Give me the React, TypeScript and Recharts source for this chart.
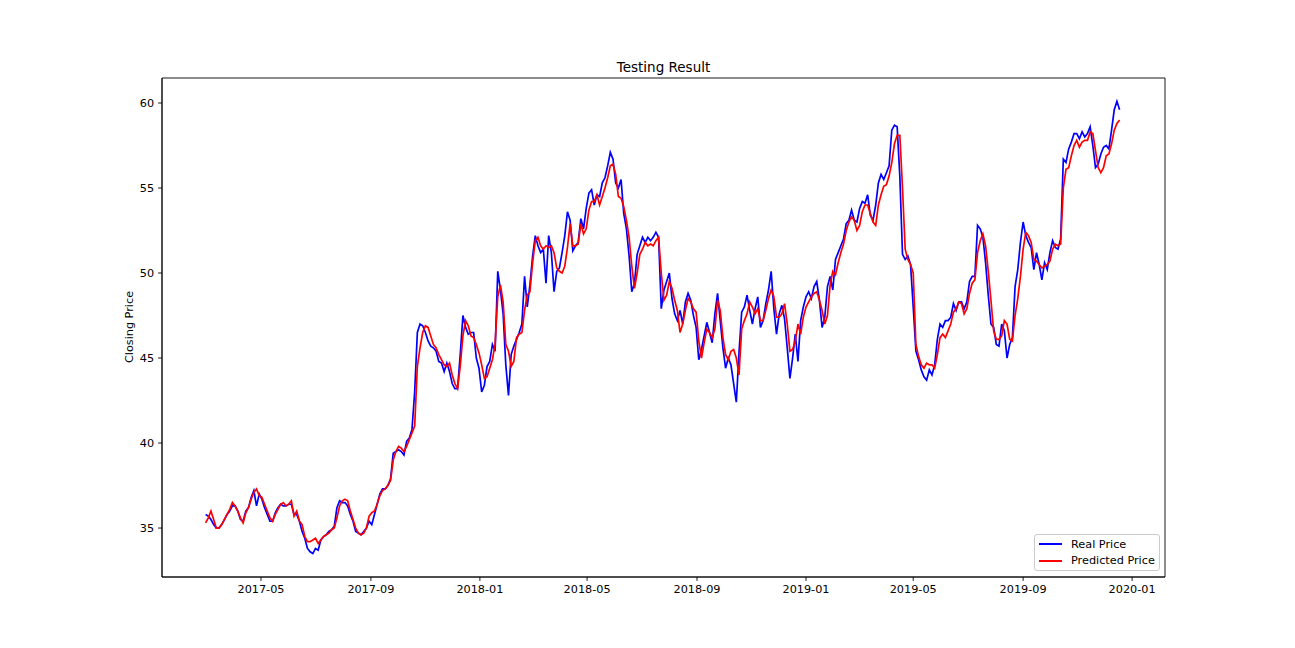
import { LineChart, Line, XAxis, YAxis, Legend, ReferenceArea } from "recharts";

const DAY = 86400000;
// closing prices read every 3 calendar days, first one on 2017-02-28
const START = Date.UTC(2017, 1, 28);
const STEP_DAYS = 3;

const realPrice = [
  35.8, 35.7, 35.5, 35.2, 35.0, 35.0, 35.2, 35.5, 35.8, 36.0,
  36.3, 36.3, 36.0, 35.5, 35.4, 36.0, 36.2, 36.8, 37.2, 36.3,
  37.0, 36.7, 36.2, 35.8, 35.4, 35.4, 35.9, 36.2, 36.4, 36.3,
  36.3, 36.4, 36.4, 35.8, 35.8, 35.4, 34.8, 34.4, 33.8, 33.6,
  33.5, 33.8, 33.7, 34.3, 34.5, 34.6, 34.8, 34.9, 35.1, 36.2,
  36.6, 36.5, 36.5, 36.3, 35.8, 35.4, 34.8, 34.7, 34.6, 34.8,
  35.0, 35.4, 35.2, 35.8, 36.4, 37.0, 37.3, 37.3, 37.5, 37.9,
  39.4, 39.5, 39.6, 39.5, 39.3, 40.1, 40.3, 40.8, 43.0, 46.5,
  47.0, 46.9, 46.5, 46.0, 45.7, 45.6, 45.4, 44.8, 44.7, 44.2,
  44.7, 44.2, 43.5, 43.2, 43.2, 45.2, 47.5, 46.8, 46.4, 46.5,
  46.5, 45.0, 44.4, 43.0, 43.4, 44.5, 44.8, 45.8, 45.4, 50.1,
  49.0, 47.6, 44.6, 42.8, 45.2, 45.7, 46.1, 46.5, 47.0, 49.8,
  48.0, 49.3, 51.0, 52.2, 51.6, 51.2, 51.4, 49.4, 52.2, 51.2,
  48.9, 50.1, 50.3, 51.2, 52.2, 53.6, 53.1, 51.3, 51.6, 51.8,
  53.2, 52.6, 53.8, 54.7, 54.9, 54.0, 54.6, 54.5, 55.3, 55.6,
  56.3, 57.1, 56.7, 55.3, 55.0, 55.5, 53.5, 52.6, 51.0, 48.9,
  49.4, 51.1, 51.6, 52.1, 51.8, 52.1, 51.9, 52.1, 52.4, 52.1,
  47.9, 49.0, 49.5, 50.0, 48.5, 47.6, 47.2, 47.8, 47.0, 48.3,
  48.8, 48.4, 47.5, 46.8, 44.9, 45.5, 46.3, 47.1, 46.5, 45.9,
  47.6, 48.8, 47.2, 45.6, 44.4, 45.0, 44.6, 43.5, 42.4, 45.3,
  47.7, 48.0, 48.7, 47.8, 47.0, 47.9, 48.6, 46.8, 47.2, 48.2,
  49.0, 50.1, 47.9, 46.4, 47.6, 48.1, 47.3, 45.6, 43.8, 45.0,
  46.4, 44.8, 47.2, 48.0, 48.6, 48.9, 48.5, 49.2, 49.5, 48.4,
  46.8, 47.4, 49.2, 49.8, 49.0, 50.8, 51.2, 51.6, 52.0, 52.9,
  53.1, 53.7, 53.1, 53.0, 53.8, 54.2, 54.1, 54.6, 53.4, 53.1,
  54.0, 55.3, 55.8, 55.5, 55.9, 56.3, 58.4, 58.7, 58.6, 55.7,
  51.1, 50.8, 51.0, 50.5, 48.0, 45.4, 44.9, 44.3, 43.9, 43.7,
  44.3, 44.0, 44.6, 46.1, 47.0, 46.8, 47.2, 47.2, 47.4, 48.2,
  47.8, 48.3, 48.3, 47.9, 48.3, 49.5, 49.8, 49.8, 52.8, 52.6,
  52.1, 50.6, 48.7, 47.0, 46.8, 45.8, 45.7, 47.0, 46.6, 45.0,
  45.8, 46.2, 49.2, 50.2, 51.8, 53.0, 52.2, 51.8, 51.5, 50.2,
  51.2, 50.5, 49.6, 50.6, 50.2, 51.2, 51.9, 51.5, 51.4, 52.0,
  56.7, 56.5, 57.3, 57.7, 58.2, 58.2, 57.9, 58.3, 58.0, 58.2,
  58.6, 57.5, 56.2, 56.4, 57.0, 57.4, 57.5, 57.3, 58.4, 59.6,
  60.1, 59.6,
];

const predictedPrice = [
  35.3, 35.6, 36.0, 35.5, 35.0, 35.0, 35.2, 35.5, 35.8, 36.1,
  36.5, 36.3, 36.0, 35.6, 35.3, 35.9, 36.2, 36.7, 37.1, 37.3,
  36.9, 36.8, 36.4, 36.0, 35.6, 35.4, 35.8, 36.1, 36.4, 36.5,
  36.3, 36.4, 36.6, 35.7, 36.0, 35.4, 35.2, 34.5, 34.2, 34.2,
  34.3, 34.4, 34.1, 34.3, 34.5, 34.6, 34.7, 34.9, 35.0, 35.6,
  36.3, 36.6, 36.7, 36.6, 36.0, 35.5, 35.0, 34.7, 34.6, 34.7,
  35.0, 35.7, 35.9, 36.0, 36.4, 36.9, 37.2, 37.3, 37.5, 37.8,
  39.0, 39.5, 39.8, 39.7, 39.5, 39.8, 40.2, 40.6, 41.0, 44.5,
  45.6, 46.5, 46.9, 46.8, 46.3, 45.8, 45.6, 45.2, 44.9, 44.6,
  44.5, 44.7, 44.0, 43.5, 43.2, 44.5, 46.3, 47.2, 46.9, 46.3,
  46.2, 45.8, 45.3, 44.6, 43.8, 43.9, 44.4, 44.9, 45.8, 48.6,
  49.3, 48.3, 45.8, 45.4, 44.5, 44.8, 46.2, 46.4, 46.5, 47.8,
  48.7, 48.9, 50.6, 51.9, 52.1, 51.6, 51.4, 51.6, 51.5, 51.6,
  51.2, 50.3, 50.1, 50.0, 50.4, 51.5, 52.9, 51.6, 51.6, 51.7,
  52.9, 52.3, 52.6, 53.7, 54.2, 54.2, 54.6, 54.0, 54.5, 55.0,
  55.6, 56.3, 56.4, 55.8, 54.5, 54.4, 53.9, 53.1, 52.1, 50.4,
  49.1, 50.0, 51.1, 51.4, 51.8, 51.6, 51.7, 51.6, 51.9, 52.1,
  50.0, 48.4, 48.7, 49.5, 49.1, 48.4, 47.8, 46.5, 47.0, 47.8,
  48.5, 48.3, 47.9, 47.7, 46.0, 45.0, 45.9, 46.7, 46.5, 46.2,
  46.7, 48.4, 47.8, 46.2, 45.2, 44.9, 45.4, 45.5, 45.0, 44.0,
  46.7, 47.2, 47.6, 48.3, 48.0, 47.6, 47.9, 47.2, 47.2, 47.8,
  48.5, 49.0, 48.6, 47.4, 47.4, 47.6, 48.2, 47.0, 45.4, 45.5,
  46.0, 47.0, 46.4, 47.4, 48.0, 48.3, 48.6, 48.8, 48.9, 48.4,
  47.8, 47.0, 47.5, 49.3, 50.1, 49.9, 50.6, 51.2, 51.7, 52.5,
  53.0, 53.3, 53.1, 52.5, 52.8, 53.6, 54.0, 54.0, 53.5, 53.0,
  52.8, 54.0, 54.6, 55.1, 55.2, 55.7, 56.5, 57.6, 58.1, 58.1,
  55.0, 51.4, 50.8, 50.5, 50.0, 45.8, 45.1, 44.6, 44.4, 44.7,
  44.6, 44.6, 44.4, 45.2, 46.2, 46.4, 46.2, 46.6, 47.0, 47.7,
  47.9, 48.3, 48.2, 47.6, 47.9, 48.8, 49.4, 49.6, 51.2, 51.9,
  52.3, 51.6, 50.1, 48.4, 46.6, 46.1, 46.1, 46.3, 47.2, 47.0,
  46.1, 46.0, 47.5, 48.5, 49.8, 51.4, 52.4, 52.2, 51.8, 50.8,
  50.7, 50.5, 50.3, 50.4, 50.5, 50.7, 51.4, 51.7, 51.6, 51.7,
  55.0, 56.1, 56.2, 56.9, 57.5, 57.8, 57.4, 57.7, 57.8, 57.8,
  58.3, 58.2, 57.2, 56.2, 55.9, 56.2, 56.9, 57.0, 57.6, 58.4,
  58.8, 59.0,
];

const monthTicks = [
  "2017-05", "2017-09", "2018-01", "2018-05", "2018-09",
  "2019-01", "2019-05", "2019-09", "2020-01",
];
const priceTicks = [35, 40, 45, 50, 55, 60];

const data = realPrice.map((real, i) => ({
  date: START + i * STEP_DAYS * DAY,
  real,
  predicted: predictedPrice[i],
}));

const X_DOMAIN = [Date.UTC(2017, 0, 1) + 9.2 * DAY, Date.UTC(2017, 0, 1) + 1131.8 * DAY];
const Y_DOMAIN = [32.12, 61.47];

const fmtMonth = (v: number) => {
  const d = new Date(v);
  return `${d.getUTCFullYear()}-${String(d.getUTCMonth() + 1).padStart(2, "0")}`;
};

const tickStyle = { fill: "#000", fontSize: 11.25, fontFamily: "DejaVu Sans" };

const LegendBox = () => (
  <div
    style={{
      width: 126,
      height: 37,
      border: "1px solid #cccccc",
      borderRadius: 3,
      background: "rgba(255,255,255,0.8)",
      fontSize: 11.25,
      fontFamily: "DejaVu Sans",
      color: "#000",
      boxSizing: "border-box",
      paddingTop: 1,
    }}
  >
    {[
      { label: "Real Price", color: "#0000ff" },
      { label: "Predicted Price", color: "#ff0000" },
    ].map((e) => (
      <div key={e.label} style={{ display: "flex", alignItems: "center", height: 16.5 }}>
        <div style={{ width: 23, height: 2, background: e.color, marginLeft: 4, marginRight: 9 }} />
        <span style={{ whiteSpace: "nowrap" }}>{e.label}</span>
      </div>
    ))}
  </div>
);

const App = () => {
  return (
    <div
      style={{
        position: "absolute",
        left: 0,
        top: 0,
        width: 1295,
        height: 648,
        background: "#fff",
        fontFamily: "DejaVu Sans",
      }}
    >
      <div
        style={{
          position: "absolute",
          left: 162,
          width: 1003,
          top: 59,
          textAlign: "center",
          fontSize: 13.5,
          zIndex: 2,
        }}
      >
        Testing Result
      </div>
      <div
        style={{
          position: "absolute",
          left: 129,
          top: 327,
          transform: "translate(-50%, -50%) rotate(-90deg)",
          fontSize: 11.25,
          whiteSpace: "nowrap",
          zIndex: 2,
        }}
      >
        Closing Price
      </div>
      <LineChart
        width={1295}
        height={648}
        data={data}
        margin={{ top: 78, right: 130, bottom: 41, left: 100 }}
      >
        <XAxis
          dataKey="date"
          type="number"
          scale="linear"
          domain={X_DOMAIN}
          allowDataOverflow
          ticks={monthTicks.map((m) => Date.parse(m + "-01T00:00:00Z"))}
          tickFormatter={fmtMonth}
          height={30}
          tickSize={3.9}
          tickMargin={3.9}
          tick={tickStyle}
          stroke="#000"
          axisLine={{ stroke: "#000", strokeWidth: 0.9 }}
          tickLine={{ stroke: "#000", strokeWidth: 0.9 }}
        />
        <YAxis
          type="number"
          domain={Y_DOMAIN}
          allowDataOverflow
          ticks={priceTicks}
          width={62}
          tickSize={3.9}
          tickMargin={3.9}
          tick={tickStyle}
          stroke="#000"
          axisLine={{ stroke: "#000", strokeWidth: 0.9 }}
          tickLine={{ stroke: "#000", strokeWidth: 0.9 }}
        />
        <Line
          type="linear"
          dataKey="real"
          name="Real Price"
          stroke="#0000ff"
          strokeWidth={1.7}
          dot={false}
          isAnimationActive={false}
        />
        <Line
          type="linear"
          dataKey="predicted"
          name="Predicted Price"
          stroke="#ff0000"
          strokeWidth={1.7}
          dot={false}
          isAnimationActive={false}
        />
        <ReferenceArea
          x1={X_DOMAIN[0]}
          x2={X_DOMAIN[1]}
          y1={Y_DOMAIN[0]}
          y2={Y_DOMAIN[1]}
          fill="none"
          fillOpacity={0}
          stroke="#000"
          strokeWidth={0.9}
          ifOverflow="visible"
        />
        <Legend
          layout="horizontal"
          verticalAlign="middle"
          align="center"
          content={() => <LegendBox />}
          wrapperStyle={{ position: "absolute", left: 1034, top: 534, width: 126 }}
        />
      </LineChart>
    </div>
  );
};

export default App;
